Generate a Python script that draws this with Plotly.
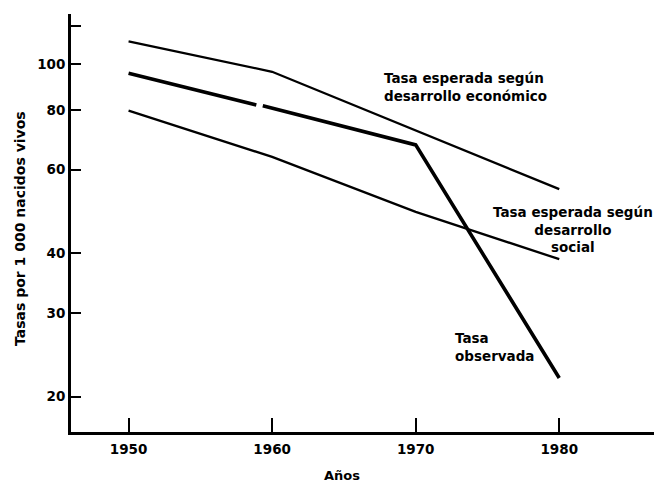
import plotly.graph_objects as go

# Data (log-scale y)
years_econ = [1950, 1960, 1980]
tasa_econ = [111.6, 96.3, 54.6]

years_social = [1950, 1960, 1970, 1980]
tasa_social = [79.8, 63.8, 48.9, 38.9]

# observed series with the small break visible near 1959
years_obs = [1950, 1958.9, None, 1959.35, 1970, 1980]
tasa_obs = [95.6, 82.0, None, 81.7, 67.6, 21.9]

x_ticks = [1950, 1960, 1970, 1980]
y_ticks = [20, 30, 40, 60, 80, 100, 120]
y_ticktext = ["20", "30", "40", "60", "80", "100", ""]

FONT = "DejaVu Sans"

fig = go.Figure()
fig.add_trace(go.Scatter(x=years_econ, y=tasa_econ, mode="lines",
                         line=dict(color="black", width=2.3), showlegend=False))
fig.add_trace(go.Scatter(x=years_social, y=tasa_social, mode="lines",
                         line=dict(color="black", width=2.3), showlegend=False))
fig.add_trace(go.Scatter(x=years_obs, y=tasa_obs, mode="lines", connectgaps=False,
                         line=dict(color="black", width=3.6), showlegend=False))

lab_font = dict(family=FONT, size=13.5, color="black")
fig.add_annotation(x=1967.66, y=1.9527, xref="x", yref="y",
                   text="<b>Tasa esperada según<br>desarrollo económico</b>",
                   showarrow=False, xanchor="left", yanchor="middle", align="left", font=lab_font)
fig.add_annotation(x=1980.98, y=1.6513, xref="x", yref="y",
                   text="<b>Tasa esperada según<br>desarrollo<br>social</b>",
                   showarrow=False, xanchor="center", yanchor="middle", align="center", font=lab_font)
fig.add_annotation(x=1972.6, y=1.4055, xref="x", yref="y",
                   text="<b>Tasa<br>observada</b>",
                   showarrow=False, xanchor="left", yanchor="middle", align="left", font=lab_font)

# axis titles as annotations
fig.add_annotation(x=(20 - 71) / 583, y=(432 - 229) / 418, xref="paper", yref="paper",
                   text="<b>Tasas por 1 000 nacidos vivos</b>", textangle=-90,
                   showarrow=False, xanchor="center", yanchor="middle",
                   font=dict(family=FONT, size=14, color="black"))
fig.add_annotation(x=(342 - 71) / 583, y=(432 - 476) / 418, xref="paper", yref="paper",
                   text="<b>Años</b>", showarrow=False, xanchor="center", yanchor="middle",
                   font=dict(family=FONT, size=13, color="black"))

fig.update_xaxes(range=[1945.99, 1986.6], tickvals=x_ticks, automargin=False,
                 ticktext=[f"<b>{v}</b>" for v in x_ticks],
                 ticks="inside", ticklen=14, tickwidth=2.2, tickcolor="black",
                 ticklabelstandoff=3,
                 showline=True, linecolor="black", linewidth=2.8,
                 showgrid=False, zeroline=False,
                 tickfont=dict(family=FONT, size=13.5, color="black"))
fig.update_yaxes(type="log", range=[1.2269, 2.105], tickvals=y_ticks, automargin=False,
                 ticktext=[f"<b>{t}</b>" if t else "" for t in y_ticktext],
                 ticks="inside", ticklen=10, tickwidth=2.2, tickcolor="black",
                 showline=True, linecolor="black", linewidth=2.8,
                 showgrid=False, zeroline=False,
                 tickfont=dict(family=FONT, size=13.5, color="black"))

fig.update_layout(width=654, height=484,
                  margin=dict(l=71, r=0, t=14, b=52, autoexpand=False),
                  plot_bgcolor="white", paper_bgcolor="white")

# remove the default page margin so the 654x484 figure fills the window exactly
fig.write_html("out.html", config={"displayModeBar": False},
               post_script="document.body.style.margin='0';document.body.style.overflow='hidden';")
